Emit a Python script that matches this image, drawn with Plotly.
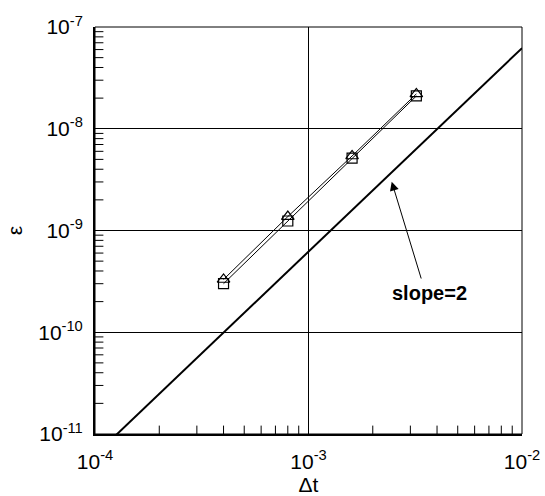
import plotly.graph_objects as go

# Time step sizes and measured errors for the two schemes
dt = [4e-4, 8e-4, 1.6e-3, 3.2e-3]
err_square = [3.0e-10, 1.24e-9, 5.15e-9, 2.1e-8]
err_triangle = [3.3e-10, 1.37e-9, 5.4e-9, 2.2e-8]

# Second-order reference line: err = coef * dt^2
ref_slope = 2
ref_coef = 6.2e-4
ref_dt = [1e-4, 1e-2]
ref_err = [ref_coef * d ** ref_slope for d in ref_dt]

x_major = [1e-4, 1e-3, 1e-2]
x_major_text = ["10<sup>-4</sup>", "10<sup>-3</sup>", "10<sup>-2</sup>"]
y_major = [1e-11, 1e-10, 1e-9, 1e-8, 1e-7]
y_major_text = ["10<sup>-11</sup>", "10<sup>-10</sup>", "10<sup>-9</sup>",
                "10<sup>-8</sup>", "10<sup>-7</sup>"]

x_minor = [m * 10 ** e for e in (-4, -3) for m in range(2, 10)]
y_minor = [m * 10 ** e for e in (-11, -10, -9, -8) for m in range(2, 10)]

FONT = "Liberation Sans, Arial, Helvetica, sans-serif"
X_RANGE = [-4, -2]
Y_RANGE = [-11, -7]

fig = go.Figure()

fig.add_trace(go.Scatter(
    x=ref_dt, y=ref_err, mode="lines",
    line=dict(color="black", width=2), showlegend=False,
))
fig.add_trace(go.Scatter(
    x=dt, y=err_square, mode="lines+markers",
    line=dict(color="black", width=1),
    marker=dict(symbol="square-open", size=10, color="black",
                line=dict(width=1.2, color="black")),
    showlegend=False,
))
fig.add_trace(go.Scatter(
    x=dt, y=err_triangle, mode="lines+markers",
    line=dict(color="black", width=1),
    marker=dict(symbol="triangle-up-open", size=11, color="black",
                line=dict(width=1.2, color="black")),
    showlegend=False,
))

# Inward minor ticks along the bottom and left edges; the half of each
# line marker that falls outside the plot area is clipped away
fig.add_trace(go.Scatter(
    x=x_minor, y=[10 ** Y_RANGE[0]] * len(x_minor), mode="markers",
    marker=dict(symbol="line-ns", size=12, line=dict(width=1, color="black")),
    cliponaxis=True, hoverinfo="skip", showlegend=False,
))
fig.add_trace(go.Scatter(
    x=[10 ** X_RANGE[0]] * len(y_minor), y=y_minor, mode="markers",
    marker=dict(symbol="line-ew", size=12, line=dict(width=1, color="black")),
    cliponaxis=True, hoverinfo="skip", showlegend=False,
))

# Thin frame on the top and right sides
fig.add_shape(type="rect", xref="paper", yref="paper", x0=0, y0=0, x1=1, y1=1,
              line=dict(color="black", width=1), layer="above")

# Arrow pointing at the reference line, with its label
fig.add_annotation(
    x=-2.6103, y=-8.5204, ax=-2.470, ay=-9.4865,
    xref="x", yref="y", axref="x", ayref="y",
    text="", showarrow=True, arrowhead=2, arrowsize=1.8, arrowwidth=1,
    arrowcolor="black",
)
fig.add_annotation(
    x=-2.431, y=-9.615, xref="x", yref="y", text="<b>slope=2</b>",
    showarrow=False, font=dict(family=FONT, size=20, color="black"),
)

tick_font = dict(family=FONT, size=21, color="black")
title_font = dict(family=FONT, size=21, color="black")

axis_common = dict(
    type="log", automargin=False,
    showline=True, linecolor="black", linewidth=2,
    ticks="", tickfont=tick_font,
    showgrid=True, gridcolor="black", gridwidth=1,
    zeroline=False, tickmode="array",
)

fig.update_layout(
    xaxis=dict(
        **axis_common, range=X_RANGE,
        tickvals=x_major, ticktext=x_major_text, ticklabelstandoff=8,
        title=dict(text="Δt", font=title_font, standoff=8),
    ),
    yaxis=dict(
        **axis_common, range=Y_RANGE,
        tickvals=y_major, ticktext=y_major_text, ticklabelstandoff=6,
        title=dict(text="ε", font=title_font, standoff=10),
    ),
    width=545, height=496,
    margin=dict(l=95, r=23, t=27, b=62),
    plot_bgcolor="white", paper_bgcolor="white",
    font=dict(family=FONT, color="black"),
)

fig.write_html("out.html")
